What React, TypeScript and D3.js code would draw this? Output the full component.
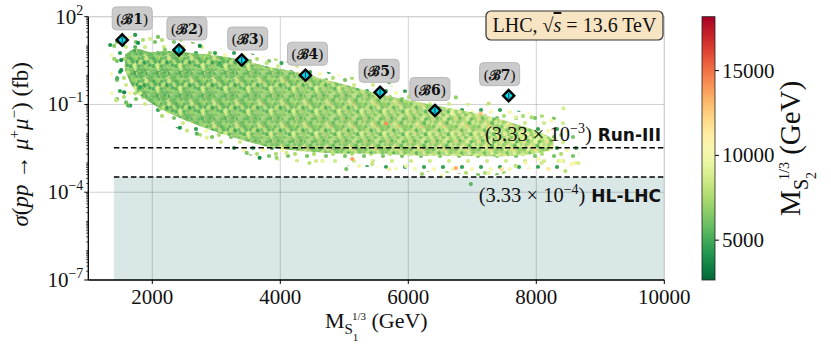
import React from 'react';
import * as d3 from 'd3';

// ---------- data ----------
const xTicks = [2000, 4000, 6000, 8000, 10000];
const yTicks = [1e2, 1e-1, 1e-4, 1e-7];
const yTickExp = ['2', '−1', '−4', '−7'];
const cTicks = [5000, 10000, 15000];

const benchNames = ['1', '2', '3', '4', '5', '6', '7'];
const benchMass = [1530, 2416, 3397, 4393, 5560, 6416, 7568];
const benchXsec = [16.1, 7.3, 3.3, 1.0, 0.26, 0.062, 0.2];
const benchLabelShift = [10, 8, 6, 2, -1, -5, -9];

// dense core of the scan (envelope)
const cloudMass = [1576, 1732, 1965, 2276, 2588, 3054, 3521, 3833, 4300, 4658, 5078, 5700, 6167, 6634, 7101, 7412, 7724, 8035, 8268];
const cloudUpper = [5, 8, 6.2, 6.7, 5.8, 4.5, 2.8, 1.9, 1.2, 0.74, 0.43, 0.19, 0.12, 0.075, 0.047, 0.032, 0.02, 0.012, 0.0066];
const cloudLower = [1.5, 0.3, 0.12, 0.05, 0.025, 0.0106, 0.0052, 0.0035, 0.0026, 0.0023, 0.0021, 0.002, 0.0018, 0.0018, 0.0017, 0.0017, 0.0018, 0.0022, 0.003];

// sparse halo around the core
const haloMass = [1342, 1654, 1965, 2276, 2743, 3210, 3677, 4144, 4767, 5389, 6012, 6634, 7257, 7879, 8346, 8658];
const haloUpper = [13.7, 22, 19, 22, 11.7, 7.3, 4.9, 2.8, 1.27, 0.67, 0.3, 0.137, 0.092, 0.053, 0.033, 0.0085];
const haloLower = [0.137, 0.085, 0.06, 0.02, 0.008, 0.003, 0.0015, 0.0011, 0.0009, 0.00073, 0.00053, 0.00045, 0.00036, 0.00062, 0.00062, 0.00092];

// individual scattered points
const outMass = [1342, 1405, 1514, 1405, 1451, 1436, 1591, 1654, 1560, 1623, 1732, 1778, 1965, 2089, 2292, 1514, 1700, 1809, 1809, 1545, 1732, 2198, 2743, 2899, 3054, 3786, 4019, 1732, 1623, 2121, 2432, 2541, 2696, 2852, 3475, 3677, 3942, 4097, 5342, 5700, 6167, 6043, 6681, 4455, 4658, 5031, 5124, 5233, 5436, 5700, 5965, 6214, 6525, 6743, 6743, 7257, 7132, 7677, 7926, 8237, 8424, 8300, 8035, 8082, 8190, 8346, 8455, 8549, 8611, 6977, 7257, 7677, 7833, 7459, 8658, 8393, 5654];
const outXsec = [10.8, 10, 3.3, 3.6, 0.79, 0.14, 0.117, 0.092, 0.26, 1.27, 9.2, 12.7, 17.4, 20.4, 23.9, 1.49, 0.67, 0.39, 0.24, 10.8, 23.9, 7.3, 10, 5.7, 2.6, 2.6, 2.6, 0.24, 0.092, 0.073, 0.016, 0.0127, 0.01, 0.0073, 0.0022, 0.0015, 0.0015, 0.0022, 0.67, 0.57, 0.24, 0.24, 0.049, 0.001, 0.00117, 0.00062, 0.00137, 0.00079, 0.00092, 0.00062, 0.00079, 0.00042, 0.00036, 0.00067, 0.174, 0.108, 0.049, 0.036, 0.036, 0.028, 0.073, 0.0067, 0.00137, 0.001, 0.00062, 0.00117, 0.00053, 0.00092, 0.001, 0.00019, 0.00045, 0.00079, 0.001, 0.00062, 0.001, 0.00117, 0.022];
const outMS2 = [4200, 6500, 3800, 7000, 5200, 8200, 6000, 4500, 3600, 7800, 5500, 4000, 8800, 6200, 7400, 3900, 6800, 4600, 9000, 5800, 4300, 6600, 3700, 7200, 5000, 8000, 4800, 7600, 5400, 6900, 4100, 8400, 5600, 9200, 6300, 3900, 7100, 8600, 7300, 5900, 6400, 8700, 9600, 7800, 9400, 6100, 13800, 10800, 8300, 11200, 9800, 7000, 10300, 13500, 6900, 8100, 12800, 9300, 7600, 10600, 8800, 9900, 10100, 8500, 11500, 9100, 7900, 10900, 9500, 5600, 9700, 8200, 10400, 11800, 8900, 10200, 14200];

const run3Limit = 3.33e-3;
const hlLimit = 3.33e-4;
const shadeStart = 1400;
const cMin = 2650;
const cMax = 18180;

// ---------- styles (texture of the dense cloud) ----------
const SERIF = '"Liberation Serif", "DejaVu Serif", serif';
const SANS = '"DejaVu Sans", sans-serif';

const tilePos: [number, number][] = [
  [1.5, 2], [6, 1.2], [10, 2.6], [15, 1.5], [19.5, 2.8], [23.5, 1.3],
  [3.5, 6.8], [8, 5.9], [12.5, 7.2], [17, 6.2], [21.5, 7.0], [25.5, 5.8],
  [1, 11.2], [5.5, 10.4], [10.5, 11.6], [14.5, 10.8], [19, 11.9], [23.5, 10.5],
  [3, 15.8], [8, 15.0], [12, 16.4], [16.5, 15.2], [21, 16.0], [25, 15.4],
  [0.5, 20.3], [5, 19.6], [10, 20.8], [14, 19.8], [18.5, 20.5], [23, 19.4],
  [3, 24.6], [7.5, 24.0], [12, 25.2], [16, 24.2], [21, 24.9], [25, 23.8],
];
const tileLight = [9200, 7600, 10800, 7000, 10000, 8400, 11600, 6600, 8800, 10400, 6200, 8000,
  9600, 7400, 11200, 8200, 5800, 9400, 7200, 10200, 7800, 12000, 8600, 6800,
  10600, 8000, 6400, 9000, 9800, 7400, 8400, 11000, 7000, 9600, 6000, 9200];
const tileDark = [4200, 6200, 3600, 7400, 5000, 8200, 3900, 6800, 5400, 4400, 7800, 3500,
  6000, 4800, 8600, 3800, 6600, 5200, 7200, 4000, 9000, 5800, 3700, 6400,
  4600, 8000, 3400, 5600, 7000, 4300, 6100, 3900, 7600, 5100, 4700, 8400];
const haloPos: [number, number, number][] = [
  [3, 4, 6200], [12, 9, 8600], [6, 15, 4600], [16, 17, 10200], [10, 2, 7600],
];

export default function App() {
  const x = d3.scaleLinear().domain([1000, 10000]).range([88.3, 664.3]);
  const y = d3.scaleLog().domain([1e-7, 1e2]).range([280, 16.7]);
  const cScale = d3.scaleSequential((t: number) => d3.interpolateRdYlGn(1 - t)).domain([cMin, cMax]);
  const cbY = d3.scaleLinear().domain([cMin, cMax]).range([280, 16.7]);

  const left = x.range()[0], right = x.range()[1];
  const top = y.range()[1], bottom = y.range()[0];

  const cloudArea = d3.area<number>()
    .x((_, i) => x(cloudMass[i]))
    .y0((_, i) => y(cloudLower[i]))
    .y1((_, i) => y(cloudUpper[i]))
    .curve(d3.curveCatmullRom);
  const haloArea = d3.area<number>()
    .x((_, i) => x(haloMass[i]))
    .y0((_, i) => y(haloLower[i]))
    .y1((_, i) => y(haloUpper[i]))
    .curve(d3.curveCatmullRom);
  const cloudPath = cloudArea(cloudMass) || '';
  const haloPath = haloArea(haloMass) || '';

  const minor: number[] = [];
  for (let e = -7; e < 2; e++) {
    for (let m = 1; m <= 9; m++) {
      const v = m * Math.pow(10, e);
      if (m === 1 && (e === -7 || e === -4 || e === -1)) continue;
      minor.push(v);
    }
  }

  const gradStops = d3.range(0, 21).map((i) => i / 20);
  const diamond = (cx: number, cy: number, r: number) =>
    `M${cx},${cy - r}L${cx + r},${cy}L${cx},${cy + r}L${cx - r},${cy}Z`;

  const tile = (id: string, vals: number[], dx: number, dy: number, r: number) => (
    <pattern id={id} patternUnits="userSpaceOnUse" width={27} height={27} x={dx} y={dy}
      patternTransform="scale(0.84)">
      {tilePos.map(([px, py], i) => (
        <circle key={i} cx={px} cy={py} r={r} fill={cScale(vals[i])} />
      ))}
    </pattern>
  );

  return (
    <svg width={831} height={355} style={{ position: 'absolute', left: 0, top: 0, background: '#fff' }}
      fontFamily={SERIF}>
      <defs>
        {tile('pLight', tileLight, 0, 0, 2.6)}
        {tile('pDark', tileDark, 0, 0, 2.6)}
        {tile('pMix', tileDark.slice().reverse(), 11, 13, 2.1)}
        <pattern id="pHalo" patternUnits="userSpaceOnUse" width={19} height={19}>
          {haloPos.map(([px, py, v], i) => (
            <circle key={i} cx={px} cy={py} r={2.1} fill={cScale(v)} />
          ))}
        </pattern>
        <linearGradient id="maskGrad" gradientUnits="userSpaceOnUse" x1={x(1800)} x2={x(7800)} y1={0} y2={0}>
          <stop offset="0" stopColor="#aaa" />
          <stop offset="0.45" stopColor="#555" />
          <stop offset="1" stopColor="#000" />
        </linearGradient>
        <mask id="darkMask">
          <rect x={0} y={0} width={831} height={355} fill="url(#maskGrad)" />
        </mask>
        <linearGradient id="mixGrad" gradientUnits="userSpaceOnUse" x1={x(1800)} x2={x(7800)} y1={0} y2={0}>
          <stop offset="0" stopColor="#777" />
          <stop offset="1" stopColor="#333" />
        </linearGradient>
        <mask id="mixMask">
          <rect x={0} y={0} width={831} height={355} fill="url(#mixGrad)" />
        </mask>
        <linearGradient id="cbGrad" x1="0" y1="1" x2="0" y2="0">
          {gradStops.map((t) => (
            <stop key={t} offset={t} stopColor={cScale(cMin + t * (cMax - cMin))} />
          ))}
        </linearGradient>
        <clipPath id="plotClip">
          <rect x={left} y={top} width={right - left} height={bottom - top} />
        </clipPath>
      </defs>

      <rect x={x(shadeStart)} y={y(hlLimit)} width={right - x(shadeStart)} height={bottom - y(hlLimit)} fill="#d9e7e7" />

      {xTicks.map((t) => (
        <line key={'gx' + t} x1={x(t)} x2={x(t)} y1={top} y2={bottom} stroke="rgba(0,0,0,0.18)" strokeWidth={1} />
      ))}
      {yTicks.map((t) => (
        <line key={'gy' + t} x1={left} x2={right} y1={y(t)} y2={y(t)} stroke="rgba(0,0,0,0.18)" strokeWidth={1} />
      ))}

      <g clipPath="url(#plotClip)">
        <path d={haloPath} fill="url(#pHalo)" />
        <path d={cloudPath} fill={cScale(8600)} />
        <path d={cloudPath} fill="url(#pLight)" />
        <g mask="url(#darkMask)">
          <path d={cloudPath} fill="url(#pDark)" />
        </g>
        <g mask="url(#mixMask)">
          <path d={cloudPath} fill="url(#pMix)" />
        </g>
        {outMass.map((m, i) => (
          <circle key={'o' + i} cx={x(m)} cy={y(outXsec[i])} r={2.1} fill={cScale(outMS2[i])} />
        ))}
      </g>

      <line x1={x(shadeStart)} x2={right} y1={y(run3Limit)} y2={y(run3Limit)} stroke="#000" strokeWidth={1.6} strokeDasharray="5.5,3" />
      <line x1={x(shadeStart)} x2={right} y1={y(hlLimit)} y2={y(hlLimit)} stroke="#000" strokeWidth={1.6} strokeDasharray="5.5,3" />

      <text x={661} y={y(run3Limit) - 7} textAnchor="end" fontSize={20.5} fill="#111">
        (3.33 × 10<tspan dy={-8} fontSize={14}>−3</tspan><tspan dy={8}>)</tspan>
        <tspan fontFamily={SANS} fontWeight="bold" fontSize={17}> Run-III</tspan>
      </text>
      <text x={661} y={y(hlLimit) + 25} textAnchor="end" fontSize={20.5} fill="#111">
        (3.33 × 10<tspan dy={-8} fontSize={14}>−4</tspan><tspan dy={8}>)</tspan>
        <tspan fontFamily={SANS} fontWeight="bold" fontSize={17}> HL-LHC</tspan>
      </text>

      <line x1={left} x2={right} y1={top} y2={top} stroke="#cfcfcf" />
      <line x1={right} x2={right} y1={top} y2={bottom} stroke="#cfcfcf" />

      <line x1={left} x2={left} y1={top} y2={bottom} stroke="#000" strokeWidth={1.3} />
      <line x1={left} x2={right} y1={bottom} y2={bottom} stroke="#000" strokeWidth={1.3} />
      {xTicks.map((t) => (
        <g key={'xt' + t}>
          <line x1={x(t)} x2={x(t)} y1={bottom} y2={bottom + 4} stroke="#000" />
          <text x={x(t)} y={bottom + 24} textAnchor="middle" fontSize={21} fill="#111">{t}</text>
        </g>
      ))}
      {minor.map((v, i) => (
        <line key={'mn' + i} x1={left - 2.2} x2={left} y1={y(v)} y2={y(v)} stroke="#000" strokeWidth={0.7} />
      ))}
      {yTicks.map((t, i) => (
        <g key={'yt' + t}>
          <line x1={left - 4} x2={left} y1={y(t)} y2={y(t)} stroke="#000" />
          <text x={left - 5} y={y(t) + 7} textAnchor="end" fontSize={21} fill="#111">
            10<tspan dy={-9} fontSize={14}>{yTickExp[i]}</tspan>
          </text>
        </g>
      ))}

      <text x={(left + right) / 2} y={328} textAnchor="middle" fontSize={22} fill="#111">
        M<tspan dy={6} fontSize={15}>S</tspan><tspan dy={7} fontSize={11}>1</tspan>
        <tspan dx={-6} dy={-21} fontSize={11}>1/3</tspan><tspan dy={8}> (GeV)</tspan>
      </text>
      <text transform={`translate(28,${(top + bottom) / 2 - 4}) rotate(-90)`} textAnchor="middle" fontSize={23} fill="#111">
        <tspan fontStyle="italic">σ</tspan>(<tspan fontStyle="italic">pp</tspan> → <tspan fontStyle="italic">μ</tspan>
        <tspan dy={-9} fontSize={15}>+</tspan><tspan dy={9} fontStyle="italic">μ</tspan>
        <tspan dy={-9} fontSize={15}>−</tspan><tspan dy={9}>) (fb)</tspan>
      </text>

      <rect x={486} y={11} width={177} height={29} rx={5} fill="#f7e4c2" stroke="#333" strokeWidth={1.2} />
      <text x={574.5} y={32} textAnchor="middle" fontSize={20} fill="#111">
        LHC, √<tspan fontStyle="italic" textDecoration="overline">s</tspan> = 13.6 TeV
      </text>

      {benchMass.map((m, i) => {
        const cx = x(m), cy = y(benchXsec[i]);
        const lx = cx + benchLabelShift[i];
        return (
          <g key={'b' + i}>
            <rect x={lx - 20} y={cy - 33} width={40} height={23} rx={4} fill="#cbcbcb" stroke="#b8b8b8" />
            <text x={lx} y={cy - 16} textAnchor="middle" fontSize={15} fill="#111">
              (<tspan fontFamily='"DejaVu Serif", serif' fontSize={14} fontWeight="bold">ℬ{benchNames[i]}</tspan>)
            </text>
            <path d={diamond(cx, cy, 5.6)} fill="#00dce6" stroke="#000" strokeWidth={2.4} />
            <line x1={cx} x2={cx} y1={cy - 3} y2={cy + 3} stroke="#046" strokeWidth={1.1} />
          </g>
        );
      })}

      <rect x={702} y={cbY(cMax)} width={13} height={cbY(cMin) - cbY(cMax)} fill="url(#cbGrad)" stroke="#222" strokeWidth={0.8} />
      {cTicks.map((t) => (
        <g key={'ct' + t}>
          <line x1={715} x2={719} y1={cbY(t)} y2={cbY(t)} stroke="#000" />
          <text x={722} y={cbY(t) + 7} fontSize={21} fill="#111">{t}</text>
        </g>
      ))}
      <text transform={`translate(800,${(top + bottom) / 2}) rotate(-90)`} textAnchor="middle" fontSize={29} fill="#111">
        M<tspan dy={8} fontSize={20}>S</tspan><tspan dy={8} fontSize={14}>2</tspan>
        <tspan dx={-8} dy={-27} fontSize={14}>1/3</tspan><tspan dy={11}> (GeV)</tspan>
      </text>
    </svg>
  );
}
